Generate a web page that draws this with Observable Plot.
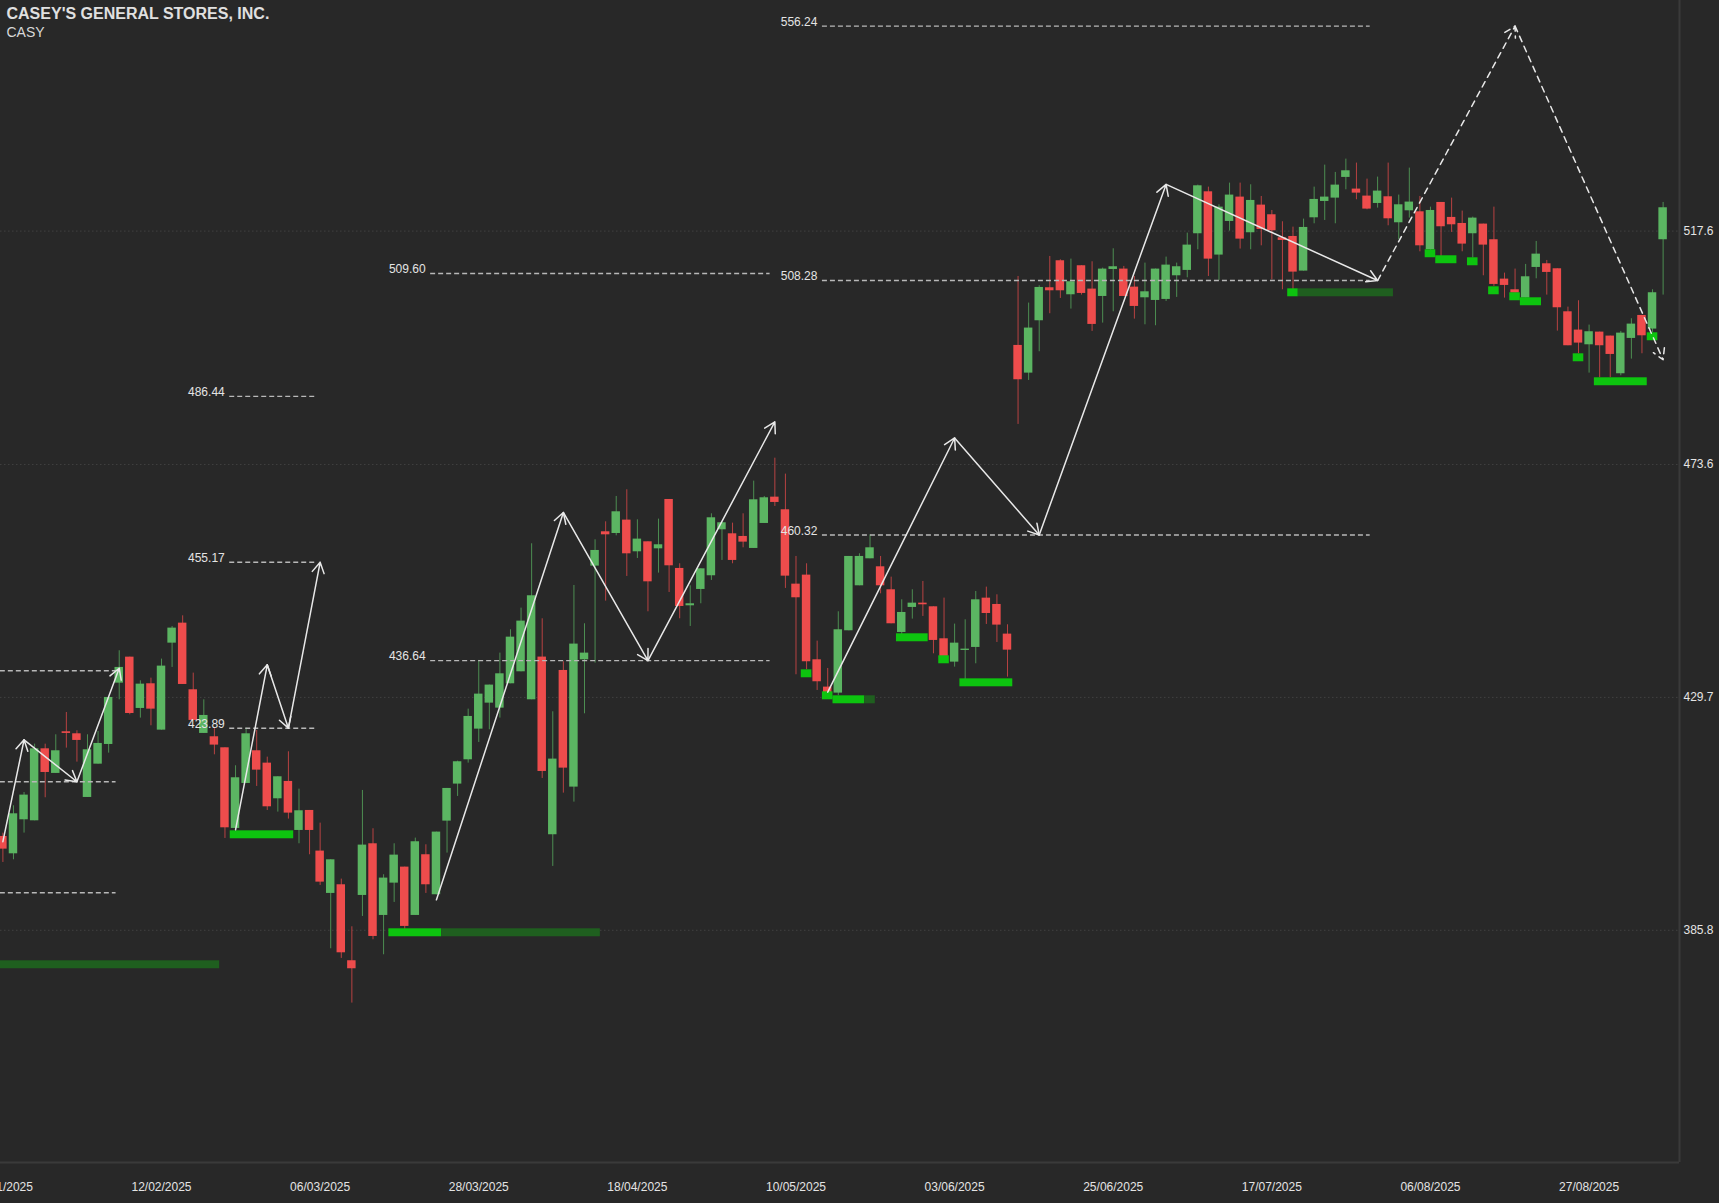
<!DOCTYPE html>
<html><head><meta charset="utf-8">
<style>html,body{margin:0;padding:0;background:#282828;overflow:hidden}svg{display:block}</style>
<script src="https://cdn.jsdelivr.net/npm/d3@7"></script>
<script src="https://cdn.jsdelivr.net/npm/@observablehq/plot@0.6"></script>
</head><body><div id="chart"></div>
<script>
const opens = [
403.49,400.22,406.63,406.44,420.01,415.37,423.22,422.84,410.84,417.12,
420.83,432.39,437.29,427.62,432.27,423.53,439.93,443.70,431.14,422.91,
422.28,420.20,405.00,413.48,419.64,417.31,410.59,413.86,404.62,408.39,
400.73,392.75,394.38,380.06,392.37,402.11,388.60,394.69,397.71,388.60,
400.04,392.50,406.38,413.36,417.94,423.72,428.62,427.68,432.27,434.53,
429.25,437.30,403.81,434.78,412.79,436.79,454.45,460.92,460.60,463.12,
457.15,459.03,457.71,467.01,454.01,446.97,450.05,452.63,461.30,460.54,
460.04,457.78,462.49,467.45,465.07,451.05,452.75,436.79,431.64,430.51,
442.26,450.74,455.83,454.32,449.99,441.94,446.66,447.47,446.78,440.75,
436.35,438.55,439.12,448.41,447.22,441.63,496.05,490.83,500.70,506.92,
512.01,505.60,511.07,506.67,505.28,510.37,510.44,507.04,505.03,504.53,
504.72,509.18,510.19,517.10,525.01,513.08,519.42,524.01,517.29,522.50,
520.68,516.34,516.59,510.06,520.11,523.19,523.82,527.72,525.52,524.20,
522.81,524.07,519.17,521.43,521.24,514.08,523.00,520.18,519.04,517.10,
518.92,515.97,508.55,506.54,504.97,510.75,511.44,510.50,502.39,498.94,
496.17,498.56,497.81,490.71,497.37,501.70,499.13,515.97];
const closes = [
401.10,407.76,411.28,420.01,415.55,419.64,422.91,421.59,419.83,421.02,
429.69,435.35,426.67,432.20,427.49,435.60,442.76,432.14,425.36,426.30,
420.71,405.12,414.55,422.84,415.99,409.08,414.74,407.89,408.33,404.62,
394.88,399.09,381.56,378.55,401.86,384.64,395.64,399.97,386.53,402.49,
394.38,404.31,412.54,417.57,426.11,430.32,432.02,434.15,441.06,444.08,
448.86,415.74,418.07,416.37,439.75,438.05,457.40,460.35,464.69,456.77,
459.54,451.49,458.47,454.51,446.84,447.35,453.94,463.56,462.62,455.52,
458.97,466.95,467.33,466.45,452.56,448.48,436.42,432.65,430.51,442.45,
456.27,456.27,457.90,450.74,443.58,445.71,447.47,447.16,440.44,437.42,
439.93,438.80,448.10,445.52,443.33,438.61,489.58,499.32,506.98,506.35,
506.35,508.05,505.85,500.01,510.44,510.88,505.28,503.40,506.16,510.44,
511.19,510.88,514.96,526.14,512.32,522.12,524.39,516.09,523.38,517.91,
517.66,515.84,509.87,518.29,523.57,524.01,526.27,528.97,524.76,521.75,
525.14,519.92,522.56,523.07,514.83,521.49,518.42,518.79,515.15,520.05,
514.96,507.55,507.36,505.91,508.99,513.26,509.81,503.15,495.99,496.49,
498.63,495.99,494.35,498.37,500.07,497.87,505.98,522.00];
const highs = [
404.12,409.27,411.78,420.89,420.89,422.65,426.86,423.41,422.65,423.28,
429.69,438.49,437.29,432.83,433.33,436.92,443.07,445.08,434.28,429.25,
424.04,420.20,416.81,423.91,423.47,418.44,414.74,419.45,412.41,408.39,
406.00,399.09,395.45,386.46,412.16,404.94,396.27,402.11,397.71,403.18,
401.92,404.31,412.54,417.69,427.49,436.67,432.02,438.05,442.45,446.53,
458.66,444.52,426.99,436.42,450.80,443.58,459.41,462.80,467.58,468.84,
463.18,459.03,463.31,467.01,454.89,450.74,453.94,464.31,462.62,462.55,
464.31,470.47,467.58,474.80,471.79,456.27,454.89,440.31,435.16,445.84,
456.27,456.77,460.35,456.27,452.37,448.10,449.99,451.56,446.78,448.42,
443.52,444.33,449.67,450.49,449.04,443.39,509.05,504.03,507.30,512.82,
512.20,512.32,511.07,511.82,510.63,514.27,510.94,509.05,511.57,510.44,
512.70,511.57,517.22,526.27,525.89,522.56,526.65,526.65,526.33,524.13,
521.49,519.36,518.35,519.86,525.89,530.04,528.66,531.17,530.42,527.40,
527.78,530.42,524.39,529.47,524.13,522.12,523.00,523.82,521.37,520.24,
518.92,522.12,509.68,510.44,511.32,515.65,512.07,510.50,503.27,504.47,
499.88,498.56,497.81,498.69,501.08,501.70,506.54,523.00];
const lows = [
398.59,399.09,404.12,406.44,410.78,415.37,420.14,417.50,410.84,417.12,
419.20,429.25,426.42,425.80,424.35,423.53,435.35,432.14,425.36,422.91,
418.88,403.11,404.75,413.48,412.92,408.39,408.08,406.76,402.11,400.04,
394.25,382.32,380.50,372.08,388.41,384.01,381.19,391.05,385.90,388.60,
392.75,392.50,400.35,411.03,417.31,421.21,423.60,425.80,432.27,434.53,
429.25,414.42,397.84,411.66,409.96,426.61,436.16,447.85,460.16,452.50,
455.89,445.84,453.13,449.48,444.52,443.08,447.35,451.75,455.52,454.89,
457.90,457.78,462.49,465.69,450.24,433.97,434.91,431.01,430.51,430.01,
442.26,450.74,455.83,449.23,443.58,441.50,444.46,444.96,437.92,437.11,
435.41,433.02,436.04,443.45,440.06,433.52,481.16,489.45,494.86,502.02,
504.91,502.90,505.54,498.69,500.26,502.39,505.28,501.01,499.94,499.76,
504.34,505.10,508.80,514.08,509.05,508.30,517.60,514.21,514.08,514.83,
508.43,506.54,506.54,510.06,518.98,519.61,518.98,525.39,523.51,521.62,
521.93,518.60,515.97,520.05,513.70,513.45,512.82,517.35,513.70,512.51,
509.18,507.17,504.97,505.91,504.97,508.61,505.54,498.75,495.99,494.48,
490.83,489.95,489.95,490.33,493.47,494.48,498.50,505.54];

const tickIndex = [0,15,30,45,60,75,90,105,120,135,150];
const tickLabels = ["22/01/2025","12/02/2025","06/03/2025","28/03/2025","18/04/2025","10/05/2025","03/06/2025","25/06/2025","17/07/2025","06/08/2025","27/08/2025"];
const priceTicks = [385.8,429.7,473.6,517.6];

const levelPrices = [556.24,508.28,460.32,509.60,436.64,486.44,455.17,423.89,434.72,413.79,392.87];
const levelStarts = [77.5,77.5,77.5,40.45,40.45,21.45,21.45,21.45,-1,-1,-1];
const levelEnds   = [129.3,129.3,129.3,72.55,72.55,29.6,29.6,29.6,10.7,10.7,10.7];

const zoneStart = [-1,21.5,36.5,41.5,75.5,77.5,78.5,81.5,84.5,88.5,90.5,121.5,122.5,134.5,135.5,138.5,140.5,142.5,143.5,148.5,150.5,155.5];
const zoneEnd   = [20.5,27.5,41.5,56.5,76.5,78.5,81.5,82.5,87.5,89.5,95.5,122.5,131.5,135.5,137.5,139.5,141.5,143.5,145.5,149.5,155.5,156.5];
const zonePrice = [379.3,403.8,385.33,385.33,434.15,430.0,429.25,429.25,440.94,436.79,432.45,505.97,505.97,513.33,512.2,511.82,506.35,505.22,504.28,493.72,489.2,497.68];
const zoneActive= [0,1,1,0,1,1,1,0,1,1,1,1,0,1,1,1,1,1,1,1,1,1];

const legFromX = [0,2,7,22,25,27,41,53,61,78,90,98,110];
const legFromY = [402.5,421.7,413.8,404.75,435.85,423.9,391.55,464.56,436.64,430.7,478.6,460.32,526.4];
const legToX   = [2,7,11,25,27,30,53,61,73,90,98,110,130];
const legToY   = [421.7,413.8,435.2,435.85,423.9,455.17,464.56,436.64,481.65,478.6,460.32,526.4,508.28];
const projFromX = [130,143];
const projFromY = [508.28,556.24];
const projToX   = [143,157];
const projToY   = [556.24,493.35];

const UP = "#5bb562", DOWN = "#ee4c4c", ZONE_ON = "#0dc40f", ZONE_OFF = "#1f5f1f", INK = "#e4e4e4";
const font = "'Liberation Sans', Arial, sans-serif";
const idx = d3.range(opens.length);
const colour = i => closes[i] >= opens[i] ? UP : DOWN;
const levels = d3.range(levelPrices.length);
const zones = d3.range(zonePrice.length);
const frameX = 158.55, yBottom = 341.84, yTop = 561.07, frameY = 342.05;

const plot = Plot.plot({
  width: 1719, height: 1203,
  marginTop: 0, marginLeft: 0, marginRight: 40, marginBottom: 40,
  x: {type: "linear", domain: [-0.227, frameX]},
  y: {type: "linear", domain: [yBottom, yTop]},
  style: {background: "#282828", fontFamily: font, fontSize: "12px", color: INK},
  marks: [
    Plot.ruleY(priceTicks, {x1: -0.227, x2: frameX, stroke: "#414141", strokeWidth: 1, strokeDasharray: "1.5,2.5"}),
    Plot.ruleY([frameY], {x1: -0.227, x2: frameX, stroke: "#3a3a3a", strokeWidth: 2}),
    Plot.ruleX([frameX], {y1: frameY, y2: yTop, stroke: "#3a3a3a", strokeWidth: 2}),
    Plot.ruleX(idx, {x: i => i, y1: i => lows[i], y2: i => highs[i], stroke: colour, strokeWidth: 1, strokeOpacity: 0.72}),
    Plot.rectY(idx, {x1: i => i - 0.4, x2: i => i + 0.4, y1: i => opens[i], y2: i => closes[i], fill: colour}),
    Plot.rectY(zones, {x1: i => zoneStart[i], x2: i => zoneEnd[i], y1: i => zonePrice[i] - 0.75, y2: i => zonePrice[i] + 0.75, fill: i => zoneActive[i] ? ZONE_ON : ZONE_OFF}),
    Plot.ruleY(levels, {y: i => levelPrices[i], x1: i => levelStarts[i], x2: i => levelEnds[i], stroke: "#b8b8b8", strokeWidth: 1.4, strokeDasharray: "5,3"}),
    Plot.text(levels.filter(i => levelStarts[i] > 0), {x: i => levelStarts[i], y: i => levelPrices[i], text: i => levelPrices[i].toFixed(2), textAnchor: "end", dx: -5, dy: -4, fill: INK, fontSize: 12}),
    Plot.arrow(d3.range(legFromX.length), {x1: i => legFromX[i], y1: i => legFromY[i], x2: i => legToX[i], y2: i => legToY[i], stroke: "#e8e8e8", strokeWidth: 1.5, bend: 0, headLength: 12, headAngle: 60}),
    Plot.arrow(d3.range(projFromX.length), {x1: i => projFromX[i], y1: i => projFromY[i], x2: i => projToX[i], y2: i => projToY[i], stroke: "#e8e8e8", strokeWidth: 1.5, bend: 0, headLength: 12, headAngle: 60, strokeDasharray: "6,5"}),
    Plot.axisX({ticks: tickIndex, tickFormat: d => tickLabels[tickIndex.indexOf(d)], tickSize: 0, tickPadding: 19, fill: INK, fontSize: 12, label: null}),
    Plot.axisY({anchor: "right", ticks: priceTicks, tickFormat: d => d.toFixed(1), tickSize: 0, tickPadding: 4, fill: INK, fontSize: 12, label: null}),
    Plot.text(["CASEY'S GENERAL STORES, INC."], {frameAnchor: "top-left", dx: 6, dy: 7, fill: "#e0e0e0", fontSize: 16, fontWeight: "bold", lineAnchor: "top"}),
    Plot.text(["CASY"], {frameAnchor: "top-left", dx: 6, dy: 27, fill: "#d8d8d8", fontSize: 14, lineAnchor: "top"})
  ]
});
document.getElementById("chart").append(plot);
</script></body></html>
